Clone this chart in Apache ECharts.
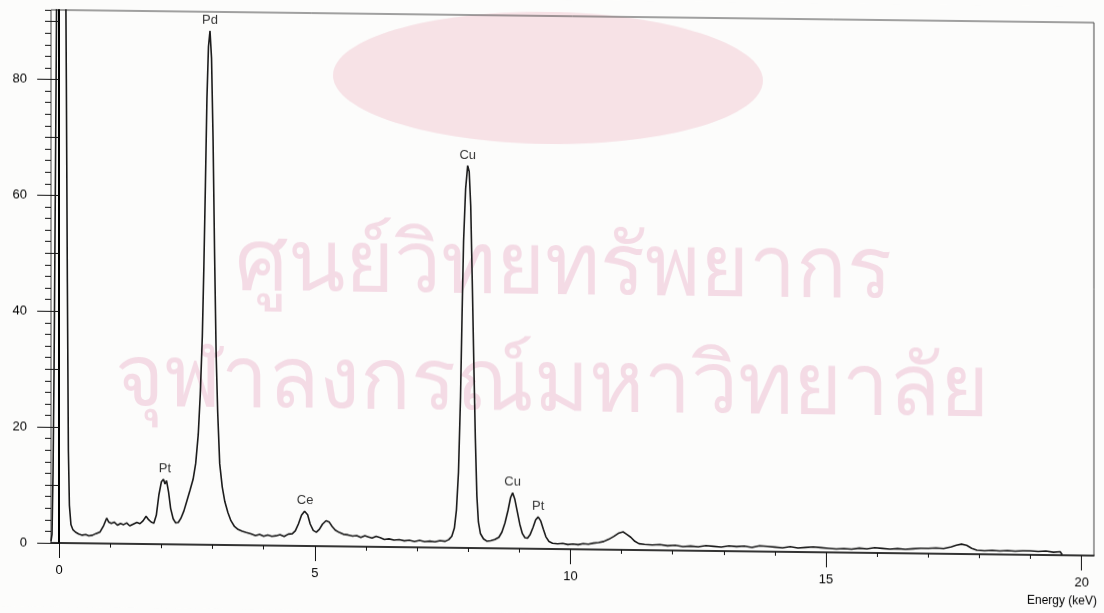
<!DOCTYPE html>
<html>
<head>
<meta charset="utf-8">
<script src="https://cdn.jsdelivr.net/npm/echarts@6/dist/echarts.min.js"></script>
<style type="text/css">
    html, body { margin: 0; padding: 0; background: #fcfcfb; }
    #main {
        width: 1104px;
        height: 613px;
        transform: skewY(0.7deg);
        transform-origin: 552px 306px;
    }
</style>
</head>
<body>
<div id="main"></div>
<script>
    // spectrum: energy (keV) and counts
    var energy = [
        -0.16, -0.14, -0.12, -0.10, -0.08, -0.06, -0.04, -0.02, 0.02, 0.08,
        0.12, 0.14, 0.16, 0.18, 0.20, 0.23, 0.27, 0.32, 0.38, 0.45,
        0.52, 0.58, 0.65, 0.72, 0.80, 0.87, 0.93, 0.97, 1.02, 1.08,
        1.14, 1.20, 1.26, 1.32, 1.38, 1.45, 1.52, 1.58, 1.64, 1.70,
        1.75, 1.80, 1.85, 1.90, 1.95, 2.00, 2.04, 2.07, 2.10, 2.14,
        2.18, 2.23, 2.28, 2.33, 2.38, 2.44, 2.50, 2.56, 2.62, 2.67,
        2.72, 2.76, 2.80, 2.83, 2.86, 2.89, 2.92, 2.95, 2.98, 3.01,
        3.04, 3.07, 3.10, 3.14, 3.19, 3.24, 3.30, 3.36, 3.43, 3.50,
        3.58, 3.66, 3.75, 3.84, 3.92, 4.00, 4.08, 4.16, 4.24, 4.32,
        4.40, 4.48, 4.56, 4.62, 4.68, 4.74, 4.80, 4.86, 4.91, 4.97,
        5.03, 5.09, 5.15, 5.22, 5.28, 5.34, 5.40, 5.48, 5.56, 5.65,
        5.74, 5.82, 5.90, 5.98, 6.05, 6.12, 6.20, 6.28, 6.36, 6.45,
        6.55, 6.65, 6.75, 6.85, 6.95, 7.05, 7.15, 7.25, 7.35, 7.45,
        7.55, 7.62, 7.68, 7.73, 7.77, 7.81, 7.85, 7.88, 7.91, 7.95,
        7.99, 8.02, 8.05, 8.08, 8.11, 8.14, 8.17, 8.20, 8.24, 8.30,
        8.37, 8.44, 8.52, 8.60, 8.66, 8.72, 8.78, 8.83, 8.87, 8.91,
        8.96, 9.01, 9.06, 9.11, 9.16, 9.21, 9.27, 9.32, 9.37, 9.42,
        9.47, 9.52, 9.58, 9.65, 9.75, 9.85, 9.95, 10.05, 10.15, 10.25,
        10.35, 10.45, 10.55, 10.65, 10.75, 10.85, 10.95, 11.03, 11.10, 11.18,
        11.26, 11.34, 11.45, 11.60, 11.75, 11.90, 12.05, 12.20, 12.35, 12.50,
        12.65, 12.80, 12.95, 13.10, 13.25, 13.40, 13.55, 13.70, 13.85, 14.00,
        14.15, 14.30, 14.45, 14.60, 14.75, 14.90, 15.05, 15.20, 15.35, 15.50,
        15.65, 15.80, 15.95, 16.10, 16.25, 16.40, 16.55, 16.70, 16.85, 17.00,
        17.15, 17.30, 17.45, 17.55, 17.65, 17.75, 17.85, 17.95, 18.10, 18.25,
        18.40, 18.55, 18.70, 18.85, 19.00, 19.15, 19.30, 19.45, 19.58, 19.62
    ];
    var counts = [
        0.3, 1.5, 12, 30, 55, 80, 110, 160, 200, 170,
        110, 80, 45, 16, 6.5, 3.2, 2.3, 1.9, 1.6, 1.4,
        1.5, 1.3, 1.4, 1.7, 2.0, 3.1, 4.4, 3.7, 3.5, 3.7,
        3.2, 3.5, 3.3, 3.6, 3.1, 3.4, 3.7, 3.5, 4.0, 4.8,
        4.2, 3.8, 3.6, 5.0, 8.5, 10.8, 11.2, 10.4, 11.0, 9.0,
        6.2, 4.4, 3.7, 3.8, 4.5, 5.8, 7.6, 9.4, 11.3, 14.0,
        19.0, 26, 36, 48, 62, 77, 86, 88.7, 84, 70,
        50, 33, 23, 14, 10, 7.5, 5.6, 4.2, 3.2, 2.7,
        2.4, 2.2, 2.0, 1.7, 1.9, 1.6, 1.8, 1.6, 1.7, 1.9,
        1.6, 2.0, 2.1, 2.6, 3.8, 5.3, 6.0, 5.4, 3.8, 2.7,
        2.4, 2.9, 3.8, 4.4, 4.2, 3.4, 2.8, 2.4, 2.1, 2.0,
        1.8, 1.9, 1.6, 1.9, 1.7, 1.5, 1.8, 1.6, 1.3, 1.4,
        1.2, 1.3, 1.1, 1.2, 1.0, 1.2, 1.0, 1.1, 1.0, 1.2,
        1.1, 1.4, 2.0, 3.4, 6.5, 13, 26, 40, 53, 62,
        66, 65, 59, 46, 32, 19, 9, 4.5, 2.5, 1.6,
        1.2, 1.3, 1.5, 1.9, 2.8, 4.4, 6.6, 8.8, 9.6, 8.6,
        6.4, 4.2, 2.6, 1.9, 1.8, 2.4, 3.7, 5.0, 5.5, 4.8,
        3.4, 2.1, 1.3, 1.0, 0.9, 1.0, 0.8, 0.9, 0.8, 1.0,
        0.9, 1.1, 1.2, 1.4, 1.8, 2.3, 2.9, 3.1, 2.7, 2.2,
        1.5, 1.1, 1.0, 0.9, 1.0, 0.8, 0.9, 0.7, 0.8, 0.7,
        0.9, 0.8, 0.7, 0.9, 0.8, 0.9, 0.7, 1.0, 0.9, 0.8,
        0.7, 0.9, 0.7, 0.8, 0.9, 0.8, 0.7, 0.6, 0.7, 0.6,
        0.8, 0.7, 0.9, 0.8, 0.7, 0.8, 0.7, 0.8, 0.9, 0.9,
        1.0, 0.9, 1.2, 1.5, 1.7, 1.5, 1.0, 0.7, 0.6, 0.7,
        0.6, 0.7, 0.6, 0.7, 0.7, 0.6, 0.7, 0.5, 0.6, 0.1
    ];

    // peak labels
    var peakNames = ['Pt', 'Pd', 'Ce', 'Cu', 'Cu', 'Pt'];
    var peakEnergy = [2.07, 2.95, 4.81, 7.99, 8.87, 9.37];
    var peakHeight = [11.2, 88.7, 6.0, 66, 9.6, 5.5];

    // axis ticks
    var xTickLabels = [0, 5, 10, 15, 20];
    var yTickLabels = [0, 20, 40, 60, 80];

    var xMinor = [];
    for (var i = 0; i <= 20; i++) xMinor.push(i);
    var yTens = [10, 30, 50, 70, 90];
    var yMinor = [];
    for (var j = 0; j <= 92; j += 2) yMinor.push(j);

    var spectrum = energy.map(function (e, k) { return [e, counts[k]]; });
    var peaks = peakNames.map(function (n, k) {
        return { name: n, value: [peakEnergy[k], peakHeight[k]] };
    });

    var fontName = '"Liberation Sans", Arial, sans-serif';
    var ink = '#111';

    function xAxisBase() {
        return {
            type: 'value', min: -0.16, max: 20.24, position: 'bottom', offset: 0,
            splitLine: { show: false }
        };
    }
    function yAxisBase() {
        return {
            type: 'value', min: 0, max: 92, position: 'left', offset: 0,
            splitLine: { show: false }
        };
    }

    var xMajor = xAxisBase();
    xMajor.axisLine = { show: true, lineStyle: { color: ink, width: 1.5 } };
    xMajor.axisTick = { show: true, length: 15, customValues: xTickLabels, lineStyle: { color: ink, width: 1 } };
    xMajor.axisLabel = { show: true, customValues: xTickLabels, margin: 21, fontSize: 13, color: '#000', fontFamily: fontName };

    var xSmall = xAxisBase();
    xSmall.axisLine = { show: false };
    xSmall.axisTick = { show: true, length: 4, customValues: xMinor, lineStyle: { color: ink, width: 1 } };
    xSmall.axisLabel = { show: false };

    var yMajor = yAxisBase();
    yMajor.axisLine = { show: true, lineStyle: { color: '#000', width: 2 } };
    yMajor.axisTick = { show: true, length: 22, customValues: yTickLabels, lineStyle: { color: ink, width: 1 } };
    yMajor.axisLabel = { show: true, customValues: yTickLabels, margin: 24, fontSize: 13, color: '#000', fontFamily: fontName };

    var yMid = yAxisBase();
    yMid.axisLine = { show: false };
    yMid.axisTick = { show: true, length: 11, customValues: yTens, lineStyle: { color: ink, width: 1 } };
    yMid.axisLabel = { show: false };

    var ySmall = yAxisBase();
    ySmall.axisLine = { show: false };
    ySmall.axisTick = { show: true, length: 6, customValues: yMinor, lineStyle: { color: ink, width: 1 } };
    ySmall.axisLabel = { show: false };

    var chart = echarts.init(document.getElementById('main'));
    chart.setOption({
        backgroundColor: '#fcfcfb',
        animation: false,
        grid: {
            left: 51, right: 10, top: 16, bottom: 64,
            show: true, borderColor: '#444', borderWidth: 1, backgroundColor: 'transparent'
        },
        graphic: [
            {
                type: 'ellipse', z: -5, silent: true,
                shape: { cx: 548, cy: 78, rx: 215, ry: 66 },
                style: { fill: 'rgba(236, 165, 182, 0.3)' }
            },
            {
                type: 'text', z: -5, silent: true, left: 235, top: 228,
                style: { text: 'ศูนย์วิทยทรัพยากร', fontSize: 84, fill: 'rgba(232, 165, 195, 0.38)' }
            },
            {
                type: 'text', z: -5, silent: true, left: 115, top: 345,
                style: { text: 'จุฬาลงกรณ์มหาวิทยาลัย', fontSize: 84, fill: 'rgba(232, 165, 195, 0.38)' }
            },
            {
                type: 'text', right: 7, top: 589,
                style: { text: 'Energy (keV)', fill: '#000', font: '12px ' + fontName }
            }
        ],
        xAxis: [xMajor, xSmall],
        yAxis: [yMajor, yMid, ySmall],
        series: [
            {
                type: 'line',
                data: spectrum,
                showSymbol: false,
                lineStyle: { color: '#1a1a1a', width: 1.6 },
                xAxisIndex: 0, yAxisIndex: 0,
                z: 3
            },
            {
                type: 'scatter',
                data: peaks,
                symbolSize: 0,
                xAxisIndex: 0, yAxisIndex: 0,
                label: {
                    show: true, position: 'top', distance: 4,
                    formatter: '{b}', fontSize: 13, color: '#000', fontFamily: fontName
                },
                z: 4
            }
        ]
    });
</script>
</body>
</html>
